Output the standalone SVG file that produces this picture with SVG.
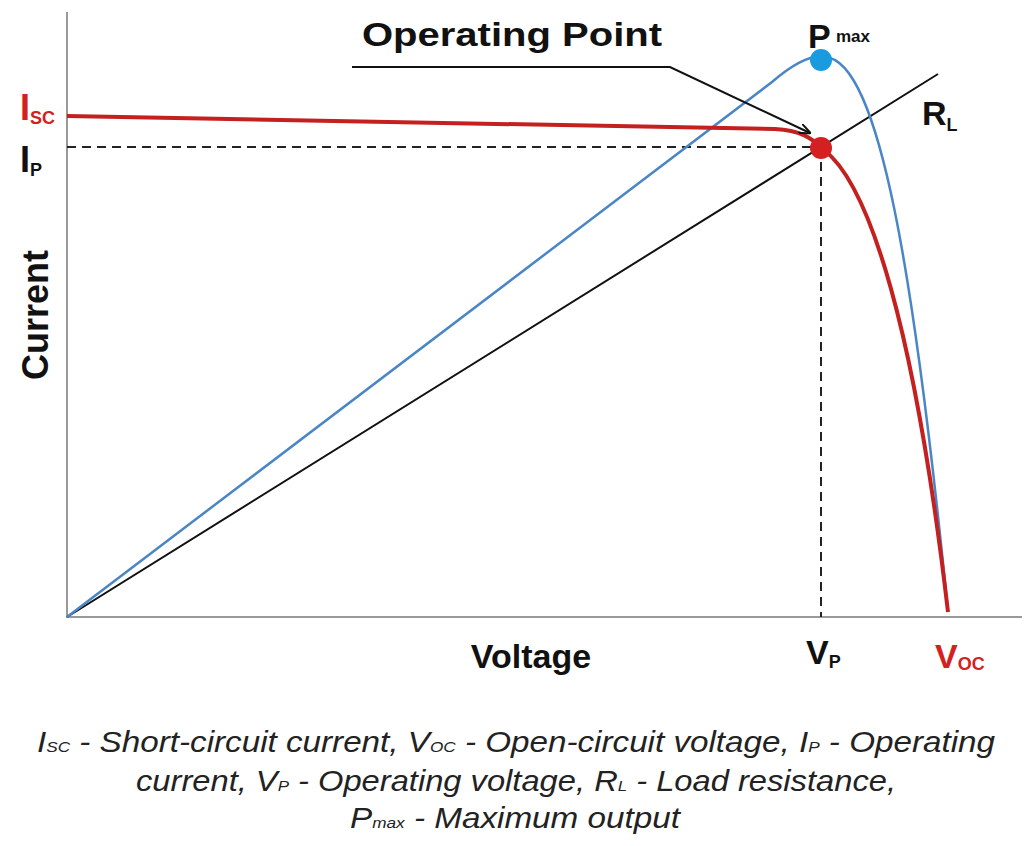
<svg xmlns="http://www.w3.org/2000/svg" width="1024" height="846" viewBox="0 0 1024 846">
<style>
text{font-family:"Liberation Sans",Arial,sans-serif;}
.b{font-weight:bold;fill:#111;}
.r{fill:#d42020;font-weight:bold;}
.cap{font-style:italic;font-size:29px;fill:#222;}
</style>
<defs><marker id="ah" markerWidth="12" markerHeight="10" refX="11" refY="5" orient="auto" markerUnits="userSpaceOnUse"><path d="M0,0 L12,5 L0,10" fill="none" stroke="#111" stroke-width="2"/></marker></defs>
<rect width="1024" height="846" fill="#fff"/>
<g id="axes" stroke="#999" stroke-width="2"><line x1="67" y1="12" x2="67" y2="618"/><line x1="66" y1="617" x2="1022" y2="617"/></g>
<g id="connectors" fill="none">
<line x1="67" y1="147" x2="821" y2="147" stroke="#222" stroke-width="2" stroke-dasharray="9,6"/>
<line x1="821" y1="147" x2="821" y2="617" stroke="#222" stroke-width="2" stroke-dasharray="9,6"/>
<line x1="67" y1="617" x2="938" y2="74" stroke="#111" stroke-width="2"/>
<path d="M67,617 L772,82 C800,58 815,55 825,57 C880,60 915,280 948,612" stroke="#4a86c5" stroke-width="2.5"/>
<path d="M67,116 L775,129 C800,130 812,138 824,150 C870,185 915,330 948,612" stroke="#c42020" stroke-width="4"/>
<path d="M352,67 L670,67 L810,133" stroke="#111" stroke-width="2" marker-end="url(#ah)"/>
</g>
<g id="pmax"><circle cx="821" cy="60" r="11" fill="#1a9be0"/><text x="808" y="48" class="b" font-size="34">P</text><text x="836" y="42" class="b" font-size="17" font-weight="normal">max</text></g>
<g id="op"><circle cx="821" cy="148" r="11" fill="#d42020"/><text x="362" y="46" class="b" font-size="34" textLength="300" lengthAdjust="spacingAndGlyphs">Operating Point</text></g>
<g id="labels">
<text x="20" y="120" class="r" font-size="36">I<tspan font-size="18" dy="4">SC</tspan></text>
<text x="20" y="172" class="b" font-size="36">I<tspan font-size="18" dy="4">P</tspan></text>
<text x="922" y="125" class="b" font-size="34">R<tspan font-size="18" dy="6">L</tspan></text>
<text x="806" y="664" class="b" font-size="34">V<tspan font-size="18" dy="4">P</tspan></text>
<text x="935" y="668" class="r" font-size="34">V<tspan font-size="18" dy="2">OC</tspan></text>
<text x="531" y="668" class="b" font-size="34" text-anchor="middle">Voltage</text>
<text transform="translate(48,315) rotate(-90)" class="b" font-size="36" text-anchor="middle">Current</text>
</g>
<g id="caption" class="cap" text-anchor="middle">
<text x="516" y="752" textLength="958" lengthAdjust="spacingAndGlyphs">I<tspan font-size="15">SC</tspan> - Short-circuit current, V<tspan font-size="15">OC</tspan> - Open-circuit voltage, I<tspan font-size="15">P</tspan> - Operating</text>
<text x="516" y="791" textLength="760" lengthAdjust="spacingAndGlyphs">current, V<tspan font-size="15">P</tspan> - Operating voltage, R<tspan font-size="15">L</tspan> - Load resistance,</text>
<text x="515" y="828" textLength="330" lengthAdjust="spacingAndGlyphs">P<tspan font-size="15">max</tspan> - Maximum output</text>
</g>
</svg>
